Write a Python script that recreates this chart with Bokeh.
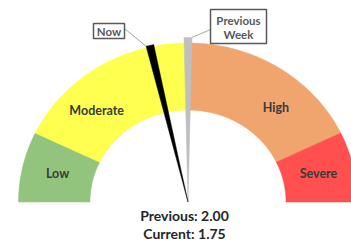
import numpy as np
from bokeh.plotting import figure
from bokeh.models import Range1d
from bokeh.embed import file_html
from bokeh.resources import INLINE
from bokeh.core.properties import value

# ---- data ----
categories = ["Low", "Moderate", "High", "Severe"]
band_edges = [0.25, 0.75, 2.00, 3.25, 3.75]
band_colors = ["#93C47D", "#FFFF4F", "#F0A46E", "#FF4F4F"]
previous_value = 2.00
current_value = 1.75
needle_names = ["Now", "Previous Week"]

# ---- layout / style ----
GAUGE_MIN, GAUGE_MAX = band_edges[0], band_edges[-1]
R_OUT, R_IN = 1.0, 0.578
W, H = 351, 243
OFF = 0                         # figure origin on the captured page
SX, SY = 169.5, 159.0          # px per data unit in x / y
CX, CY = 187.5, 201.5          # gauge centre in page pixels
FONT = value("Lato")


def ang(v):
    return np.pi * (1 - (v - GAUGE_MIN) / (GAUGE_MAX - GAUGE_MIN))


def px(x, y):
    return (x - CX) / SX, (CY - y) / SY


x_range = Range1d((OFF - CX) / SX, (OFF + W - CX) / SX)
y_range = Range1d((CY - OFF - H) / SY, (CY - OFF) / SY)

p = figure(width=W, height=H, x_range=x_range, y_range=y_range,
           output_backend="svg", toolbar_location=None, min_border=0)
p.axis.visible = False
p.grid.visible = False
p.outline_line_color = None
p.background_fill_color = "white"
p.border_fill_color = "white"

# bands
xs, ys = [], []
for a, b in zip(band_edges[:-1], band_edges[1:]):
    t = np.linspace(ang(a), ang(b), 80)
    xs.append(list(R_OUT * np.cos(t)) + list(R_IN * np.cos(t[::-1])))
    ys.append(list(R_OUT * np.sin(t)) + list(R_IN * np.sin(t[::-1])))
p.patches(xs, ys, fill_color=band_colors, line_color=band_colors, line_width=0.5)

# band labels
label_angles = np.radians([167, 133, 49, 13])
label_r = 0.79
p.text(x=list(label_r * np.cos(label_angles)), y=list(label_r * np.sin(label_angles)),
       text=categories, text_font=FONT, text_font_style="bold",
       text_font_size="12.5px", text_color="#3A3A3A",
       text_align="center", text_baseline="middle")

# needles
HW = np.radians(1.3)
tips = {}
for v, r, col, name in [(previous_value, 1.035, "#BFBFBF", needle_names[1]),
                        (current_value, 1.01, "#000000", needle_names[0])]:
    th = ang(v)
    t = np.linspace(th - HW, th + HW, 10)
    p.patch([0.0] + list(r * np.cos(t)), [0.0] + list(r * np.sin(t)),
            fill_color=col, line_color=col, line_width=0.5)
    tips[name] = (th, r)

# leader lines
th, r = tips["Now"]
bx, by = px(124, 28)
p.line([bx, r * np.cos(th + HW)], [by, r * np.sin(th + HW)], line_color="#A6A6A6", line_width=1)
th, r = tips["Previous Week"]
bx, by = px(210, 29)
p.line([r * np.cos(th - HW), bx], [r * np.sin(th - HW), by], line_color="#A6A6A6", line_width=1)

# callout boxes
nx0, ny0 = px(93, 23)
nx1, ny1 = px(124, 38)
p.rect(x=(nx0 + nx1) / 2, y=(ny0 + ny1) / 2, width=nx1 - nx0, height=ny0 - ny1,
       fill_color="white", line_color="#595959", line_width=1.5)
p.text(x=[(nx0 + nx1) / 2], y=[(ny0 + ny1) / 2], text=[needle_names[0]],
       text_font=FONT, text_font_style="bold", text_font_size="11.5px",
       text_color="#595959", text_align="center", text_baseline="middle")

wx0, wy0 = px(210, 9)
wx1, wy1 = px(266, 43)
p.rect(x=(wx0 + wx1) / 2, y=(wy0 + wy1) / 2, width=wx1 - wx0, height=wy0 - wy1,
       fill_color="white", line_color="#595959", line_width=1.5)
words = needle_names[1].split(" ")
l1 = px(238, 20)
l2 = px(238, 34)
p.text(x=[l1[0], l2[0]], y=[l1[1], l2[1]], text=words,
       text_font=FONT, text_font_style="bold", text_font_size="11.5px",
       text_color="#595959", text_align="center", text_baseline="middle")

# bottom summary
s1 = px(184, 215)
s2 = px(184, 233)
p.text(x=[s1[0], s2[0]], y=[s1[1], s2[1]],
       text=[f"Previous: {previous_value:.2f}", f"Current: {current_value:.2f}"],
       text_font=FONT, text_font_style="bold", text_font_size="14px",
       text_color="#262626", text_align="center", text_baseline="middle")

open("out.html", "w").write(file_html(p, INLINE))
